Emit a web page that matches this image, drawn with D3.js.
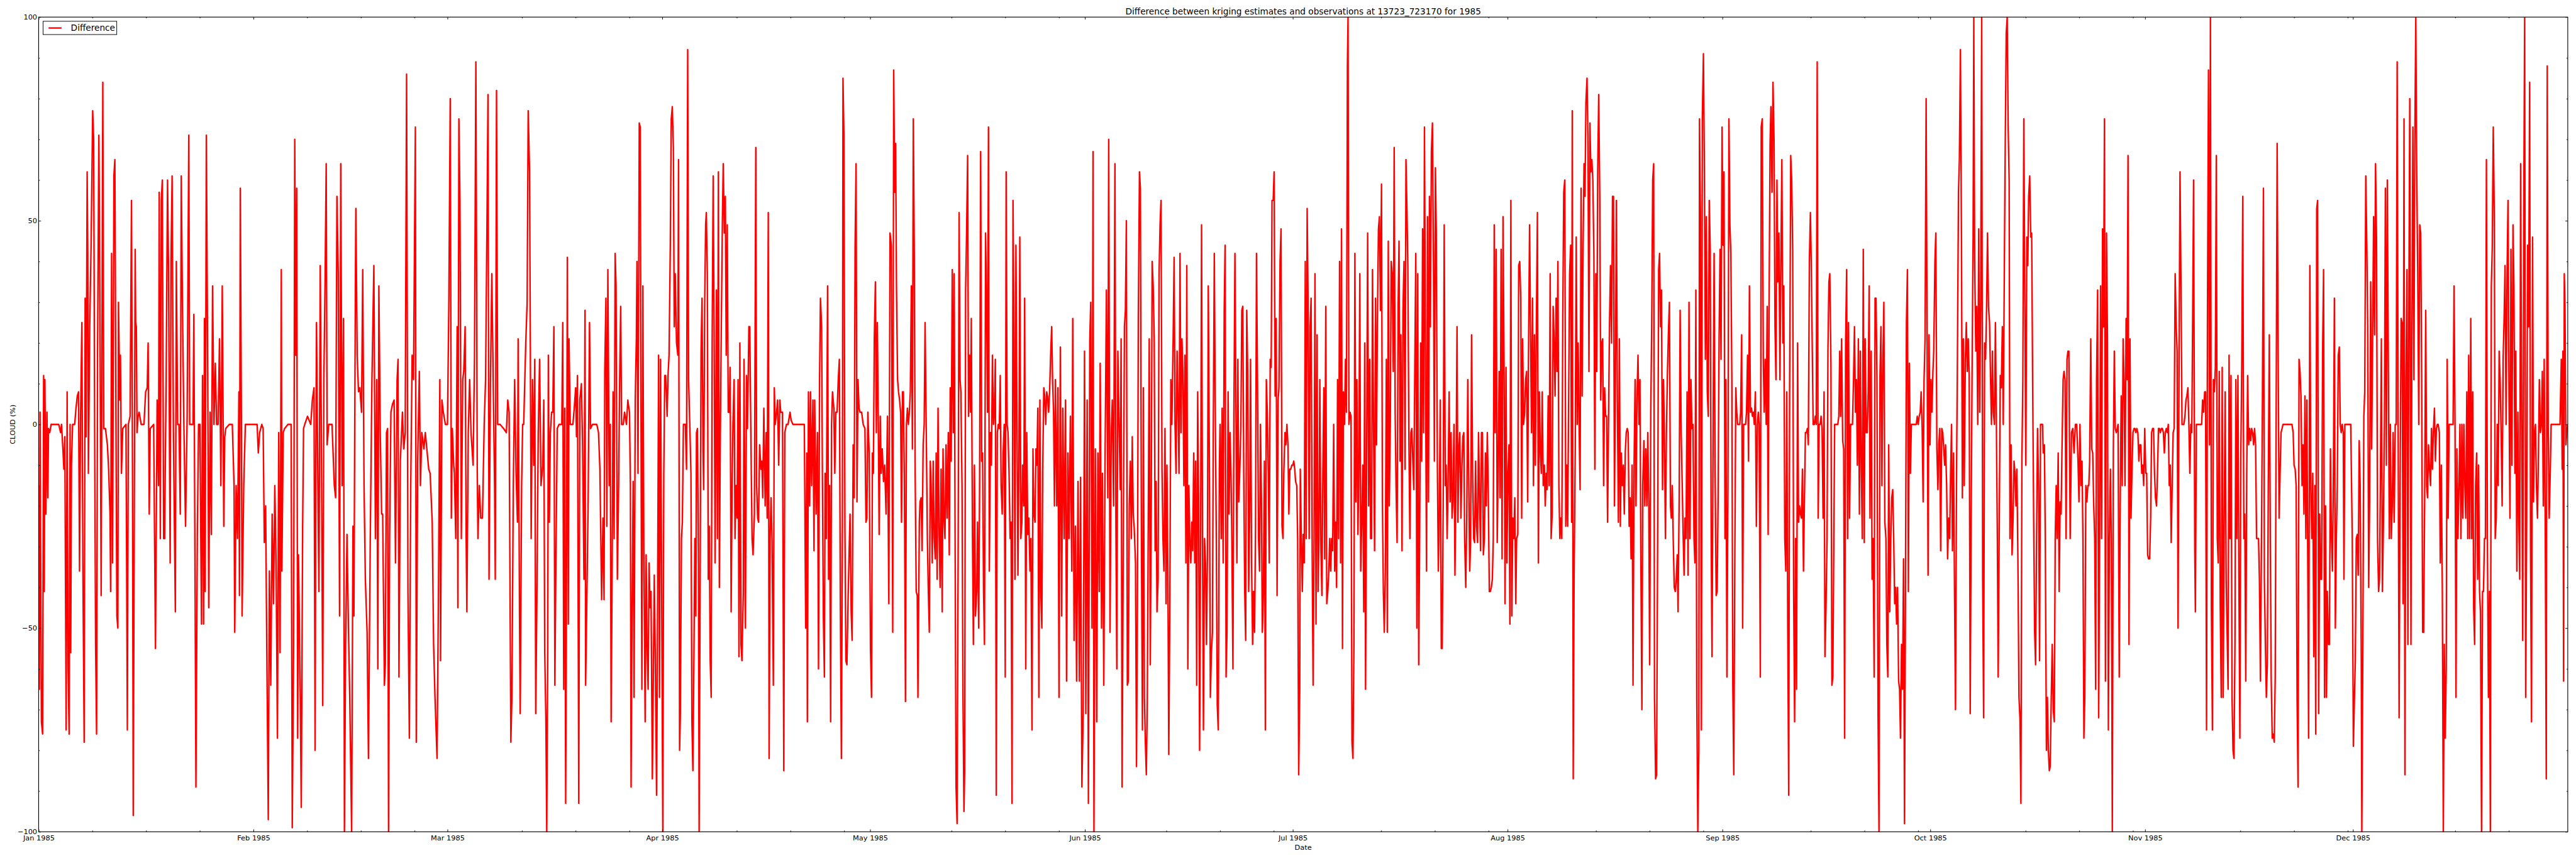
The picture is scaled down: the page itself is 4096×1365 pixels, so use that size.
<!DOCTYPE html>
<html><head><meta charset="utf-8">
<script src="https://cdn.jsdelivr.net/npm/d3@7"></script>
<style>html,body{margin:0;padding:0;background:#fff;overflow:hidden}svg{display:block}</style>
</head><body>
<svg id="chart" width="4096" height="1365" viewBox="0 0 4320 1440"></svg>
<script>
const titleText = "Difference between kriging estimates and observations at 13723_723170 for 1985";
const seriesName = "Difference";
const xAxisLabel = "Date";
const yAxisLabel = "CLOUD (%)";
const yTickValues = [-100, -50, 0, 50, 100];
const monthTickLabels = ["Jan 1985","Feb 1985","Mar 1985","Apr 1985","May 1985","Jun 1985","Jul 1985","Aug 1985","Sep 1985","Oct 1985","Nov 1985","Dec 1985"];

// [day offset from 1 Jan 1985, difference (%)]
const diffJanMar = [[0.0,-15],[0.1,-65],[0.2,3],[0.4,-73],[0.57,-76],[0.72,12],[0.81,-41],[0.9,11],[1.05,-22],[1.2,3],[1.33,-18],[1.42,-1],[1.6,-2],[1.8,0],[2.0,0],[2.9,0],[3.17,-2],[3.3,0],[3.5,-6],[3.64,-11],[3.78,-3],[3.97,-75],[4.11,8],[4.25,-60],[4.4,-76],[4.54,0],[4.63,-56],[4.73,-10],[4.9,0],[5.2,0],[5.39,4],[5.58,7],[5.76,8],[5.9,-36],[6.05,2],[6.24,25],[6.38,-34],[6.57,-78],[6.71,31],[6.85,-3],[7.0,62],[7.09,42],[7.18,-12],[7.37,24],[7.56,43],[7.8,77],[7.94,70],[8.08,-1],[8.22,-54],[8.36,-76],[8.5,17],[8.69,71],[8.83,34],[9.02,-42],[9.26,84],[9.4,-1],[9.64,-1],[9.92,-5],[10.1,-11],[10.3,-22],[10.39,-41],[10.53,42],[10.67,-34],[10.86,61],[11.0,65],[11.2,-15],[11.29,-47],[11.43,-50],[11.52,30],[11.71,6],[11.8,17],[11.95,-12],[12.14,-1],[12.6,0],[12.7,-35],[12.8,-75],[12.94,0],[13.2,2],[13.4,55],[13.55,-15],[13.65,-96],[13.79,-28],[13.93,43],[14.0,25],[14.1,24],[14.2,-2],[14.35,2],[14.5,3],[14.8,0],[15.2,0],[15.44,8],[15.67,9],[15.8,20],[15.96,-22],[16.1,-1],[16.6,0],[16.86,-55],[17.1,6],[17.3,-15],[17.4,57],[17.56,-28],[17.7,55],[17.85,60],[18.04,-28],[18.18,-28],[18.4,11],[18.6,60],[18.74,39],[18.98,-34],[19.1,40],[19.26,61],[19.45,-2],[19.73,-46],[19.87,40],[20.06,0],[20.25,0],[20.44,-22],[20.58,61],[20.77,27],[20.96,0],[21.2,-25],[21.43,2],[21.67,71],[21.8,0],[22.28,0],[22.4,27],[22.57,-38],[22.7,-89],[22.9,-27],[23.08,0],[23.27,0],[23.5,-49],[23.65,12],[23.8,-49],[23.93,26],[24.03,-41],[24.2,71],[24.4,13],[24.55,-45],[24.74,3],[24.92,-27],[25.1,34],[25.3,0],[25.5,15],[25.68,0],[25.9,0],[26.1,21],[26.3,-15],[26.5,34],[26.72,-25],[26.86,-3],[27.0,-1],[27.5,0],[27.95,0],[28.2,-15],[28.3,-51],[28.5,-15],[28.7,-28],[28.9,8],[28.98,-42],[29.1,58],[29.27,-2],[29.36,-47],[29.6,-15],[29.83,0],[30.3,0],[31.53,0],[31.7,-7],[31.9,-2],[32.2,0],[32.4,-1],[32.57,-29],[32.76,-20],[32.95,-60],[33.14,-97],[33.3,-36],[33.5,-64],[33.7,-22],[33.9,-44],[34.08,-15],[34.27,-34],[34.46,-77],[34.65,-2],[34.84,-56],[35.02,38],[35.1,-36],[35.3,-2],[35.5,-1],[35.97,0],[36.44,0],[36.6,-99],[36.8,-54],[36.96,70],[37.1,17],[37.24,58],[37.38,-77],[37.5,-32],[37.76,-67],[37.9,-94],[38.1,-25],[38.23,-1],[38.4,0],[38.8,2],[39.27,0],[39.5,6],[39.74,9],[39.9,-80],[40.0,-9],[40.1,25],[40.3,-15],[40.45,-41],[40.64,39],[40.8,-2],[41.0,-69],[41.16,11],[41.35,37],[41.5,64],[41.63,-5],[41.87,0],[42.34,0],[42.67,-15],[42.86,-18],[43.05,56],[43.24,37],[43.43,-47],[43.6,64],[43.8,-15],[44.0,26],[44.13,-100],[44.3,-54],[44.5,-27],[44.7,-49],[44.9,-67],[45.17,-100],[45.36,-25],[45.5,-47],[45.7,30],[45.78,53],[45.97,17],[46.16,8],[46.35,9],[46.6,3],[46.77,38],[46.96,-15],[47.15,-38],[47.4,-51],[47.6,-82],[47.86,-28],[48.1,11],[48.38,39],[48.6,-28],[48.8,11],[48.95,-60],[49.1,34],[49.3,-2],[49.5,-22],[49.65,-22],[49.9,-64],[50.03,-59],[50.2,-2],[50.36,-1],[50.5,-100],[50.65,-28],[50.84,3],[51.07,5],[51.3,6],[51.5,-34],[51.73,11],[51.87,16],[52.0,-62],[52.2,-9],[52.5,3],[52.7,-6],[52.9,-2],[53.1,86],[53.3,-41],[53.5,-77],[53.7,-15],[53.9,17],[54.1,11],[54.37,73],[54.5,-78],[54.7,-9],[54.94,13],[55.1,-15],[55.3,-2],[55.6,-6],[55.8,-2],[56.3,-11],[56.5,-12],[56.8,-24],[57.0,-54],[57.2,-67],[57.5,-82],[57.7,-41],[57.9,11],[58.0,-58],[58.2,6],[58.4,3],[58.7,0],[59.0,0],[59.2,30],[59.4,80],[59.56,-23],[59.7,-1],[59.9,-10],[60.0,-12],[60.2,-28],[60.4,24],[60.5,-45],[60.65,75],[60.8,55],[61.0,-28],[61.2,11],[61.35,13],[61.55,24],[61.7,-28],[61.8,-46],[62.0,-2],[62.2,11],[62.4,-2],[62.7,-10],[62.9,16],[63.1,89],[63.3,-12],[63.4,-28],[63.6,-15],[63.8,-23],[64.05,-23],[64.3,0],[64.5,11],[64.7,49],[64.85,81],[65.0,-38],[65.2,11],[65.4,37],[65.6,11],[65.8,-15],[65.9,-38],[66.08,82],[66.25,0],[66.6,0],[67.1,-1],[67.5,-2],[67.7,6],[67.9,3],[68.05,-47],[68.15,-78],[68.3,-67],[68.5,-15],[68.7,11],[68.9,-12],[69.1,-24],[69.2,21],[69.4,-47],[69.5,-71],[69.7,-15],[69.85,0],[70.0,0],[70.3,20],[70.5,30],[70.65,77],[70.85,62],[71.08,-28],[71.27,11],[71.45,-10],[71.6,16],[71.74,-71],[71.9,-44],[72.1,-2],[72.3,16],[72.5,-15]];

const diffMarMay = [[72.76,-10],[72.9,6],[73.04,-56],[73.2,-72],[73.33,-100],[73.47,-56],[73.56,17],[73.7,-24],[73.85,-2],[74.03,3],[74.2,3],[74.36,24],[74.5,-64],[74.65,-34],[74.84,-1],[75.1,0],[75.5,0],[75.64,25],[75.78,-65],[75.92,4],[76.06,-93],[76.16,-49],[76.3,41],[76.44,-49],[76.54,21],[76.72,0],[77.1,0],[77.3,4],[77.5,9],[77.62,-3],[77.76,12],[77.95,-93],[78.1,6],[78.33,10],[78.5,-5],[78.7,-38],[78.85,28],[78.94,-64],[79.1,-45],[79.3,-19],[79.5,25],[79.65,-1],[79.93,0],[80.55,0],[80.8,-2],[81.0,-11],[81.25,-43],[81.44,-23],[81.6,-43],[81.7,13],[81.87,31],[82.0,-25],[82.15,38],[82.34,-15],[82.5,0],[82.62,-73],[82.76,-37],[82.9,8],[83.05,-28],[83.2,42],[83.33,34],[83.52,-38],[83.7,-15],[83.85,11],[84.0,29],[84.13,0],[84.37,0],[84.56,3],[84.84,0],[85.03,6],[85.27,3],[85.4,-15],[85.5,-89],[85.64,-47],[85.8,-14],[85.93,-67],[86.1,6],[86.26,21],[86.35,40],[86.5,-12],[86.68,74],[86.82,73],[86.96,-15],[87.06,-65],[87.2,34],[87.34,-31],[87.53,-73],[87.67,-32],[87.8,-54],[87.96,-65],[88.1,-34],[88.24,-45],[88.38,-41],[88.57,-87],[88.7,-64],[88.85,-37],[89.0,-58],[89.18,-91],[89.3,-54],[89.47,17],[89.6,-67],[89.75,16],[89.9,-36],[90.08,-100],[90.22,-12],[90.36,12],[90.5,12],[90.7,2],[90.83,12],[90.98,17],[91.16,44],[91.3,75],[91.45,78],[91.6,68],[91.73,24],[91.87,37],[92.06,20],[92.25,17],[92.35,65],[92.5,-80],[92.6,-72],[92.77,-28],[92.9,-24],[93.05,0],[93.33,0],[93.5,-11],[93.67,92],[93.8,11],[94.0,-2],[94.14,-12],[94.28,-73],[94.42,-85],[94.56,-59],[94.7,-28],[94.85,-47],[94.94,-2],[95.08,-1],[95.22,-34],[95.32,-100],[95.46,-41],[95.6,18],[95.74,31],[95.88,-6],[95.98,-16],[96.12,29],[96.26,49],[96.36,52],[96.5,37],[96.64,-38],[96.78,-25],[96.92,-58],[97.06,-67],[97.2,21],[97.35,61],[97.48,24],[97.63,-34],[97.82,33],[97.96,-28],[98.1,62],[98.24,-40],[98.38,-2],[98.53,26],[98.67,49],[98.8,64],[98.95,47],[99.1,56],[99.23,17],[99.38,49],[99.52,3],[99.66,3],[99.8,14],[99.94,-46],[100.08,-15],[100.2,0],[100.37,11],[100.5,-28],[100.65,-15],[100.8,-23],[100.94,11],[101.07,-57],[101.2,20],[101.36,-54],[101.5,-58],[101.7,-41],[101.8,16],[102.0,-50],[102.16,12],[102.3,-1],[102.5,24],[102.63,24],[102.77,0],[102.96,-28],[103.1,-32],[103.3,-22],[103.5,68],[103.62,-15],[103.77,-23],[103.9,-24],[104.05,-5],[104.24,-11],[104.38,-9],[104.5,-18],[104.66,4],[104.85,-20],[105.0,-2],[105.14,-23],[105.3,52],[105.42,-82],[105.56,-28],[105.7,-18],[105.84,-28],[106.03,-64],[106.17,9],[106.3,0],[106.5,3],[106.65,6],[106.8,-10],[106.97,6],[107.1,3],[107.35,3],[107.54,-85],[107.68,-2],[107.92,0],[108.15,0],[108.44,3],[108.6,1],[108.86,0],[109.57,0],[110.5,0],[110.7,-50],[110.85,-7],[110.94,-73],[111.1,8],[111.27,-20],[111.4,8],[111.55,-15],[111.74,6],[111.9,-31],[112.0,6],[112.2,-22],[112.4,-2],[112.55,-60],[112.7,11],[112.83,31],[113.0,24],[113.1,-10],[113.25,-47],[113.4,-62],[113.5,-12],[113.67,-28],[113.86,34],[114.0,-38],[114.15,-15],[114.3,-73],[114.43,0],[114.57,8],[114.76,4],[114.9,-12],[115.05,3],[115.23,3],[115.4,11],[115.56,16],[115.7,-44],[115.85,-82],[116.0,-25],[116.08,85],[116.22,71],[116.36,-25],[116.5,-58],[116.65,-59],[116.84,-41],[117.0,-29],[117.1,-22],[117.26,-46],[117.4,-53],[117.55,-5],[117.7,-18],[117.83,44],[117.97,64],[118.1,-19],[118.25,11],[118.4,4],[118.54,3],[118.77,3],[119.0,0],[119.25,-1],[119.4,-24],[119.53,-23],[119.67,3],[119.86,-7],[120.05,-55],[120.2,-67],[120.33,-7],[120.47,-12],[120.6,21],[120.76,35],[120.9,-2],[121.04,25],[121.18,0],[121.3,-27],[121.46,2],[121.6,-12],[121.75,-6],[121.93,-14],[122.1,-10],[122.3,-22],[122.5,2],[122.7,-44],[122.87,47],[123.07,44],[123.26,-51],[123.4,87],[123.54,57],[123.68,69],[123.8,34],[123.96,11],[124.1,8],[124.25,6],[124.4,3],[124.53,-24],[124.67,8],[124.8,8],[124.95,-15],[125.1,-68],[125.24,0],[125.38,4],[125.52,0],[125.66,3],[125.8,8],[125.95,34],[126.1,-6],[126.23,75],[126.37,42],[126.5,-12],[126.65,-41],[126.8,-42],[126.9,-67],[127.1,-24],[127.2,-19],[127.36,-18],[127.5,-31],[127.65,-5],[127.8,0],[127.93,25],[128.07,3],[128.26,-28],[128.4,-41],[128.54,-51],[128.68,-9],[128.8,-15],[128.97,-34],[129.1,-9],[129.25,-28],[129.4,-33],[129.53,-7],[129.67,-38],[129.8,4],[129.96,-27],[130.1,-40],[130.24,-11],[130.4,-46],[130.52,-6],[130.66,-23],[130.8,-28],[130.95,-5],[131.1,-23],[131.28,-2],[131.42,-32],[131.56,9],[131.7,-9],[131.85,38],[132.0,-2],[132.13,37],[132.27,-32],[132.4,-89],[132.55,-98],[132.7,-32],[132.84,52],[132.98,11],[133.1,8],[133.26,-15],[133.4,-67],[133.54,-95],[133.64,-85],[133.78,33],[133.92,47],[134.07,66],[134.2,2],[134.35,17],[134.5,3],[134.6,26],[134.77,-28],[134.9,-54],[135.05,-10],[135.2,-47],[135.38,-41],[135.5,-24],[135.67,-50],[135.8,-15],[135.95,67],[136.1,-9],[136.23,-7],[136.37,-41],[136.5,-54],[136.66,47],[136.8,31],[136.94,3],[137.08,73],[137.2,-36],[137.36,-2],[137.5,-10],[137.65,17],[137.8,0],[137.93,3],[138.07,16],[138.2,-91],[138.35,-2],[138.5,0],[138.64,-1],[138.78,12],[138.9,-15],[139.06,-22],[139.2,-7],[139.35,0],[139.5,-62],[139.63,62],[139.77,0],[139.9,-2],[140.05,-12],[140.2,-28],[140.34,-24],[140.48,-93],[140.62,55],[140.76,21],[140.9,-38],[141.04,44],[141.2,0],[141.33,-37],[141.47,-10],[141.6,46],[141.75,-28],[141.9,-24],[142.0,-10],[142.18,-20],[142.3,31],[142.46,-60],[142.6,-2],[142.75,-27],[142.9,-23],[143.07,-36],[143.2,-28],[143.36,-75],[143.5,-6],[143.64,-22],[143.8,-24],[143.93,-6],[144.07,-10],[144.2,4],[144.35,-67],[144.5,6],[144.63,-41],[144.78,-50],[144.9,-12],[145.06,9],[145.2,7],[145.34,0],[145.48,8],[145.6,7],[145.76,3],[145.9,8],[146.05,17],[146.2,24],[146.33,11],[146.47,3],[146.6,-20]];

const diffMayAug = [[146.74,11],[146.93,-20],[147.1,9],[147.26,-67],[147.45,19],[147.64,-47],[147.8,4],[148.0,-28],[148.2,6],[148.35,-63],[148.53,-7],[148.7,-28],[148.9,2],[149.1,-36],[149.24,26],[149.43,-53],[149.62,-25],[149.8,-63],[150.0,-14],[150.2,-63],[150.37,-13],[150.56,-89],[150.75,-71],[150.94,18],[151.13,-71],[151.32,6],[151.5,-93],[151.7,21],[151.84,30],[152.02,-50],[152.17,67],[152.3,-100],[152.5,-6],[152.7,-73],[152.87,-7],[153.06,-41],[153.2,15],[153.4,-50],[153.53,-12],[153.72,-64],[153.9,-10],[154.1,33],[154.3,-18],[154.43,70],[154.62,-51],[154.8,-2],[154.95,6],[155.14,-20],[155.33,64],[155.47,-25],[155.6,-60],[155.75,18],[155.94,-1],[156.1,-16],[156.22,21],[156.36,-89],[156.5,-41],[156.7,24],[156.84,28],[156.98,50],[157.12,-64],[157.26,-63],[157.4,-20],[157.55,-9],[157.7,-28],[157.83,-3],[157.97,-22],[158.1,-25],[158.3,-34],[158.44,-84],[158.58,-44],[158.7,26],[158.87,62],[159.0,58],[159.15,-28],[159.3,-75],[159.43,9],[159.58,-67],[159.72,-78],[159.86,-86],[160.0,-68],[160.14,-24],[160.28,21],[160.43,-59],[160.57,-20],[160.7,40],[160.85,34],[161.0,21],[161.13,-31],[161.27,-14],[161.4,-46],[161.56,-38],[161.7,37],[161.84,49],[161.98,55],[162.12,-11],[162.26,-28],[162.4,-36],[162.55,-1],[162.7,-44],[162.83,-10],[162.97,-36],[163.1,-81],[163.25,-44],[163.4,11],[163.54,0],[163.73,21],[163.87,41],[164.0,0],[164.15,-12],[164.3,18],[164.44,4],[164.58,-12],[164.72,42],[164.86,-2],[165.0,21],[165.14,13],[165.28,-15],[165.43,17],[165.57,-34],[165.7,39],[165.85,-60],[166.0,-15],[166.13,-28],[166.28,-34],[166.42,-24],[166.56,-31],[166.7,-7],[166.84,-34],[166.98,-9],[167.13,-64],[167.27,8],[167.4,-18],[167.55,-80],[167.7,-24],[167.83,49],[167.97,-29],[168.1,-75],[168.26,-28],[168.4,-34],[168.54,-54],[168.68,-32],[168.8,34],[168.97,-12],[169.1,-67],[169.25,-56],[169.4,-51],[169.53,0],[169.67,42],[169.8,6],[169.96,-28],[170.1,-69],[170.24,-75],[170.4,-11],[170.5,0],[170.67,-28],[170.8,4],[170.95,-34],[171.1,28],[171.23,44],[171.37,-62],[171.5,-51],[171.66,8],[171.8,-22],[171.94,-2],[172.08,-12],[172.2,-28],[172.36,-60],[172.5,3],[172.65,42],[172.8,2],[172.93,-34],[173.07,16],[173.2,-19],[173.35,-11],[173.5,-1],[173.64,28],[173.78,29],[173.92,-12],[174.06,-41],[174.2,-53],[174.35,28],[174.5,12],[174.63,-41],[174.77,-23],[174.9,16],[175.05,-34],[175.2,-54],[175.33,-41],[175.48,-51],[175.62,-25],[175.76,42],[175.9,11],[176.05,-28],[176.2,-36],[176.33,0],[176.47,-18],[176.6,-51],[176.75,-42],[176.9,-9],[177.04,-75],[177.18,11],[177.32,3],[177.46,-12],[177.6,-34],[177.74,16],[177.88,14],[178.0,55],[178.17,55],[178.3,62],[178.45,7],[178.6,26],[178.73,-42],[178.88,6],[179.0,9],[179.16,40],[179.3,48],[179.44,-25],[179.58,-28],[179.7,-12],[179.87,-2],[180.0,-5],[180.15,0],[180.3,-5],[180.43,-22],[180.57,-11],[180.7,-11],[180.86,-10],[181.0,-10],[181.14,-9],[181.28,-11],[181.4,-14],[181.57,-15],[181.7,-28],[181.85,-86],[182.0,-65],[182.08,-11],[182.23,-28],[182.37,-41],[182.5,-27],[182.65,-34],[182.8,40],[182.93,-28],[183.07,53],[183.2,31],[183.36,-28],[183.5,24],[183.64,31],[183.8,-33],[183.93,-64],[184.07,-28],[184.2,37],[184.35,-49],[184.5,22],[184.64,-41],[184.78,-28],[184.9,11],[185.06,-31],[185.2,-42],[185.34,-11],[185.48,9],[185.6,-33],[185.76,29],[185.9,-44],[186.05,-41],[186.2,-36],[186.33,-28],[186.47,-36],[186.6,-28],[186.75,-31],[186.9,0],[187.04,-36],[187.18,-24],[187.32,-40],[187.46,11],[187.6,-28],[187.75,40],[187.9,-34],[188.03,48],[188.17,-55],[188.3,8],[188.46,0],[188.6,16],[188.74,3],[188.88,88],[188.97,100],[189.1,0],[189.26,3],[189.4,2],[189.54,-78],[189.68,-82],[189.82,-54],[189.96,42],[190.1,-19],[190.25,11],[190.4,-27],[190.53,-11],[190.67,37],[190.8,-36],[190.96,-23],[191.1,-10],[191.24,-46],[191.38,20],[191.5,-65],[191.67,-2],[191.8,47],[191.95,-20],[192.1,16],[192.23,-28],[192.37,-28],[192.5,38],[192.66,-2],[192.8,-31],[192.94,31],[193.08,-5],[193.2,24],[193.36,48],[193.5,51],[193.65,28],[193.8,59],[193.93,-19],[194.07,-41],[194.2,-51],[194.35,-36],[194.5,16],[194.64,-51],[194.78,45],[194.92,-20],[195.07,0],[195.2,40],[195.35,37],[195.5,13],[195.63,68],[195.77,3],[195.9,-15],[196.05,-29],[196.2,29],[196.33,45],[196.48,-9],[196.6,22],[196.76,-31],[196.9,28],[197.05,40],[197.2,-11],[197.33,65],[197.47,53],[197.6,39],[197.75,-3],[197.9,-28],[198.04,-2],[198.18,-1],[198.32,-9],[198.46,-16],[198.6,13],[198.75,42],[198.9,-50],[199.03,37],[199.17,-59],[199.3,-29],[199.45,20],[199.6,-9],[199.73,48],[199.87,-2],[200.0,73],[200.16,11],[200.3,-36],[200.44,51],[200.58,-19],[200.72,56],[200.86,24],[201.0,67],[201.15,74],[201.3,40],[201.43,-9],[201.58,63],[201.7,48],[201.86,-9],[202.0,-36],[202.14,-22],[202.28,6],[202.43,-55],[202.56,-55],[202.7,-20],[202.85,49],[203.0,-15],[203.13,-10],[203.27,-28],[203.4,-15],[203.56,8],[203.7,-19],[203.84,-2],[203.98,-23],[204.1,-19],[204.26,0],[204.4,-37],[204.55,-15],[204.7,24],[204.83,-24],[204.97,-6],[205.1,-2],[205.26,-23],[205.4,-11],[205.54,-3],[205.68,-2],[205.8,-28],[205.96,-40],[206.1,-23],[206.25,11],[206.4,-15],[206.53,-36],[206.67,-28],[206.8,22],[206.96,-14],[207.1,-28],[207.24,-29],[207.38,-9],[207.52,-25],[207.66,-29],[207.8,-2],[207.95,-18],[208.1,-31],[208.23,-2],[208.37,-2],[208.5,-32],[208.65,-28],[208.8,-7],[208.93,-20],[209.07,-2],[209.2,-15],[209.36,-41],[209.5,-41],[209.65,-40],[209.8,-38],[209.93,-28],[210.07,49],[210.2,-2],[210.35,43],[210.5,-29],[210.64,-10],[210.78,13],[210.92,-18],[211.06,43],[211.2,-33],[211.34,51],[211.5,11],[211.63,-44],[211.77,14],[211.9,-34],[212.05,-12],[212.2,-5],[212.33,-49],[212.47,55],[212.6,-47],[212.76,-23],[212.9,-28],[213.04,-18],[213.18,-44],[213.3,-28],[213.47,-27],[213.6,39],[213.75,40],[213.9,31],[214.03,-23],[214.17,21],[214.3,0],[214.46,3],[214.6,11],[214.74,13],[214.9,-19],[215.0,14],[215.17,49],[215.3,24],[215.45,-2],[215.6,31],[215.73,-15],[215.87,22],[216.0,-10],[216.15,24],[216.3,52],[216.44,-34],[216.58,8],[216.72,-6],[216.86,-12],[217.0,8],[217.14,-15],[217.3,-10],[217.43,-20],[217.57,-12],[217.7,-16],[217.86,7],[218.0,-15],[218.14,37],[218.28,-28],[218.43,-22],[218.57,29],[218.7,22],[218.85,7],[219.0,31],[219.13,13]];

const diffAugOct = [[219.26,40],[219.4,-15],[219.54,-28],[219.68,-23],[219.82,-28],[219.96,26],[220.1,57],[220.25,60],[220.39,-25],[220.53,-10],[220.67,-25],[220.8,4],[220.95,37],[221.1,44],[221.24,-24],[221.33,77],[221.47,-87],[221.6,-36],[221.76,-6],[221.9,46],[222.04,0],[222.18,20],[222.32,0],[222.46,-16],[222.6,58],[222.75,7],[222.89,43],[223.03,64],[223.17,56],[223.3,79],[223.46,85],[223.6,70],[223.74,13],[223.88,74],[224.02,62],[224.16,65],[224.3,60],[224.45,42],[224.59,-11],[224.73,37],[224.87,13],[225.0,62],[225.15,81],[225.3,56],[225.44,6],[225.58,20],[225.72,21],[225.86,-15],[226.0,9],[226.15,2],[226.29,2],[226.43,-24],[226.57,2],[226.7,24],[226.85,39],[227.0,20],[227.14,56],[227.28,56],[227.42,-20],[227.56,11],[227.7,55],[227.84,6],[227.99,-24],[228.13,21],[228.27,-25],[228.4,-7],[228.55,-15],[228.7,-10],[228.84,-22],[228.98,-7],[229.12,-2],[229.26,-1],[229.4,-2],[229.54,-25],[229.68,-18],[229.82,-33],[229.97,-10],[230.1,-64],[230.25,-10],[230.4,11],[230.53,-20],[230.68,7],[230.82,17],[230.96,0],[231.1,11],[231.24,-36],[231.38,-70],[231.5,-15],[231.67,-4],[231.8,-20],[231.95,-6],[232.1,-20],[232.23,-2],[232.37,-19],[232.5,-59],[232.66,3],[232.8,25],[232.94,60],[233.08,64],[233.2,-67],[233.36,-87],[233.5,-86],[233.65,-28],[233.8,38],[233.93,42],[234.07,24],[234.2,33],[234.36,-16],[234.5,11],[234.64,-4],[234.78,-28],[234.92,-2],[235.06,12],[235.2,22],[235.35,30],[235.5,-20],[235.63,-23],[235.77,-15],[235.9,-28],[236.05,-40],[236.2,-41],[236.34,-38],[236.48,-32],[236.6,-46],[236.76,-18],[236.9,28],[237.05,-2],[237.2,-15],[237.33,-27],[237.47,-37],[237.6,-23],[237.75,-28],[237.9,8],[238.04,-37],[238.18,30],[238.32,-28],[238.46,11],[238.6,-1],[238.75,0],[238.9,-28],[239.03,-34],[239.17,33],[239.3,-67],[239.45,-100],[239.6,-80],[239.69,75],[239.83,52],[239.97,-75],[240.1,75],[240.26,91],[240.4,62],[240.54,16],[240.68,51],[240.82,8],[240.96,2],[241.1,55],[241.24,43],[241.38,-28],[241.5,-57],[241.67,2],[241.8,42],[241.95,-12],[242.1,-42],[242.24,-41],[242.38,-18],[242.52,21],[242.66,43],[242.8,16],[242.95,73],[243.09,44],[243.23,62],[243.37,-28],[243.5,11],[243.65,-62],[243.8,-15],[243.94,75],[244.08,49],[244.22,42],[244.36,11],[244.5,-64],[244.64,-86],[244.78,-36],[244.93,9],[245.07,3],[245.2,0],[245.35,0],[245.5,0],[245.63,3],[245.78,22],[245.92,-50],[246.06,0],[246.2,0],[246.34,0],[246.48,3],[246.63,17],[246.77,-9],[246.9,34],[247.05,3],[247.2,4],[247.33,2],[247.47,3],[247.6,0],[247.76,8],[247.9,-25],[248.04,0],[248.18,3],[248.3,0],[248.47,-62],[248.6,73],[248.75,75],[248.9,16],[249.03,3],[249.17,16],[249.32,0],[249.46,29],[249.6,-27],[249.74,30],[249.88,69],[250.0,78],[250.16,57],[250.3,84],[250.45,70],[250.59,24],[250.73,11],[250.87,60],[251.0,35],[251.16,47],[251.3,11],[251.44,40],[251.58,65],[251.72,20],[251.86,34],[252.0,-28],[252.15,-36],[252.29,8],[252.43,-50],[252.57,-91],[252.7,8],[252.86,66],[253.0,60],[253.14,43],[253.28,-41],[253.42,-73],[253.56,-28],[253.7,-65],[253.85,20],[253.99,-24],[254.13,-20],[254.27,-22],[254.41,-23],[254.55,-11],[254.7,-36],[254.84,-18],[254.98,-2],[255.12,-2],[255.26,-1],[255.4,-5],[255.55,40],[255.7,52],[255.83,39],[255.97,18],[256.1,0],[256.26,0],[256.4,2],[256.54,0],[256.68,89],[256.82,-23],[256.96,0],[257.1,0],[257.24,2],[257.38,-1],[257.53,-23],[257.67,8],[257.8,-57],[257.95,-45],[258.1,-28],[258.23,18],[258.37,35],[258.5,37],[258.66,15],[258.8,-64],[258.94,-62],[259.08,-28],[259.2,0],[259.37,0],[259.5,0],[259.65,0],[259.8,2],[259.93,18],[260.07,2],[260.2,21],[260.36,-4],[260.5,-6],[260.64,-77],[260.78,20],[260.93,38],[261.07,-28],[261.2,25],[261.35,-23],[261.5,0],[261.63,0],[261.77,0],[261.92,11],[262.06,24],[262.2,3],[262.34,11],[262.48,-10],[262.62,21],[262.77,-22],[262.9,18],[263.05,-11],[263.19,-28],[263.33,43],[263.47,-29],[263.6,21],[263.76,-2],[263.9,-2],[264.04,8],[264.18,34],[264.3,-23],[264.47,18],[264.6,-38],[264.75,-28],[264.9,-62],[265.03,31],[265.17,31],[265.3,12],[265.46,-71],[265.6,-100],[265.74,12],[265.88,24],[266.02,-15],[266.16,16],[266.3,30],[266.44,-24],[266.6,-28],[266.73,-54],[266.87,-62],[267.0,-5],[267.15,-46],[267.3,-28],[267.44,-18],[267.58,-16],[267.72,-28],[267.86,-44],[268.0,-40],[268.14,-49],[268.28,-40],[268.43,-63],[268.57,-65],[268.7,-77],[268.85,-54],[269.0,-65],[269.14,-33],[269.28,-98],[269.42,-41],[269.56,25],[269.7,38],[269.84,-41],[269.98,15],[270.13,-12],[270.27,0],[270.4,0],[270.7,0],[270.98,0],[271.12,2],[271.26,0],[271.4,2],[271.55,3],[271.68,8],[271.83,-1],[271.97,-19],[272.1,11],[272.25,21],[272.4,80],[272.53,25],[272.68,-37],[272.82,22],[272.96,-5],[273.1,11],[273.24,3],[273.38,13],[273.5,18],[273.67,40],[273.8,47],[273.95,-6],[274.1,-16],[274.23,-5],[274.37,-1],[274.5,-31],[274.66,-1],[274.8,-2],[274.94,-6],[275.08,-10],[275.2,-5],[275.36,-15],[275.5,-33],[275.65,-23],[275.8,-28],[275.93,-12],[276.07,0],[276.2,-31],[276.36,-7],[276.5,-41],[276.64,-70],[276.78,-15],[276.92,17],[277.07,57],[277.2,65],[277.35,92],[277.5,46],[277.63,-18],[277.77,21],[277.9,-15],[278.06,16],[278.2,25],[278.34,13],[278.48,21],[278.62,12],[278.76,-71],[278.9,-23],[279.05,18],[279.18,46],[279.28,100],[279.4,40],[279.57,18],[279.7,29],[279.85,0],[279.99,48],[280.13,3],[280.27,29],[280.42,100],[280.56,-38],[280.7,-72],[280.84,20],[280.98,16],[281.12,28],[281.26,47],[281.4,29],[281.55,25],[281.7,11],[281.83,0],[281.97,18],[282.1,3],[282.26,0],[282.4,25],[282.54,0],[282.68,-28],[282.8,-62],[282.96,-23],[283.1,12],[283.25,9],[283.4,24],[283.53,0],[283.67,34],[283.8,65],[283.96,96],[284.1,100],[284.24,73],[284.38,60],[284.5,-28],[284.66,-5],[284.8,-32],[284.95,-23],[285.09,-9],[285.23,-12],[285.37,-20],[285.5,-11],[285.65,-34],[285.8,-67],[285.94,-72],[286.08,-93],[286.22,-9],[286.36,11],[286.5,75],[286.65,29],[286.79,-10],[286.93,46],[287.07,39],[287.2,56],[287.35,61],[287.5,46],[287.63,47],[287.78,9],[287.92,-23],[288.06,-51],[288.2,-59],[288.34,-28],[288.48,-1],[288.63,-15],[288.77,-58],[288.91,0],[289.05,0],[289.2,0],[289.3,-7],[289.47,-5],[289.6,-28],[289.76,-80],[289.9,-67],[290.04,-80],[290.18,-85],[290.3,-84],[290.46,-67],[290.6,-54],[290.75,-70],[290.9,-73],[291.03,-28],[291.17,-15],[291.3,-28],[291.46,-7],[291.6,-41],[291.74,-19],[291.88,-22],[292.0,-7],[292.17,11],[292.3,13],[292.45,11],[292.6,-28],[292.73,16],[292.87,18]];

const diffOctDec = [[293.0,18],[293.19,-28],[293.38,-2],[293.57,-1],[293.75,-7],[293.94,0],[294.13,0],[294.32,-9],[294.46,-19],[294.6,0],[294.75,-15],[294.9,-9],[295.03,-28],[295.17,-77],[295.3,-67],[295.45,-15],[295.6,-19],[295.74,-15],[295.88,-15],[296.0,-9],[296.16,21],[296.3,-6],[296.44,-7],[296.59,-20],[296.73,-28],[296.87,-65],[297.0,11],[297.15,33],[297.3,-72],[297.44,-28],[297.58,34],[297.72,-28],[297.86,48],[298.0,24],[298.14,75],[298.28,-63],[298.43,47],[298.57,21],[298.7,-75],[298.85,-28],[299.0,-11],[299.13,-28],[299.27,-100],[299.42,-6],[299.56,18],[299.7,-1],[299.84,-2],[299.98,-1],[300.1,0],[300.27,-62],[300.41,-20],[300.55,7],[300.7,-15],[300.83,21],[300.97,11],[301.1,-15],[301.26,26],[301.4,11],[301.54,66],[301.68,-54],[301.82,21],[301.97,-23],[302.1,-12],[302.25,-2],[302.4,-1],[302.53,-1],[302.67,-2],[302.8,-1],[302.96,-2],[303.1,-9],[303.24,-5],[303.38,-5],[303.52,-12],[303.66,-10],[303.8,-15],[303.95,-1],[304.1,-12],[304.23,-12],[304.37,-32],[304.5,-33],[304.66,-33],[304.8,-23],[304.94,-2],[305.08,-1],[305.22,-1],[305.36,-12],[305.5,-18],[305.65,-20],[305.79,-12],[305.93,-1],[306.07,-1],[306.2,-2],[306.35,-1],[306.5,-1],[306.64,-2],[306.78,-7],[306.92,-2],[307.06,-1],[307.2,-2],[307.35,0],[307.49,-15],[307.63,-10],[307.77,-29],[307.91,-15],[308.05,-2],[308.2,-1],[308.34,37],[308.48,25],[308.62,18],[308.76,-50],[308.9,13],[309.04,62],[309.19,33],[309.33,0],[309.47,0],[309.6,0],[309.75,2],[309.9,6],[310.03,7],[310.18,9],[310.32,0],[310.46,-12],[310.6,0],[310.74,-2],[310.88,29],[311.0,60],[311.17,-31],[311.26,-46],[311.4,0],[311.55,0],[311.7,0],[311.97,0],[312.16,0],[312.3,6],[312.44,3],[312.6,8],[312.73,8],[312.87,-75],[313.0,24],[313.15,87],[313.3,-5],[313.43,100],[313.57,-45],[313.72,-75],[313.86,11],[314.0,8],[314.14,14],[314.28,66],[314.42,-28],[314.56,-34],[314.7,13],[314.85,-45],[314.99,-67],[315.13,14],[315.27,-67],[315.4,-28],[315.56,8],[315.7,-38],[315.84,-51],[315.98,-65],[316.12,17],[316.26,-28],[316.4,12],[316.55,-67],[316.69,-80],[316.83,-82],[316.97,-54],[317.1,11],[317.25,-28],[317.4,12],[317.54,-38],[317.68,-77],[317.82,-7],[317.96,16],[318.1,56],[318.25,-28],[318.39,-22],[318.53,-63],[318.67,-12],[318.8,12],[318.95,-5],[319.1,-1],[319.24,-4],[319.38,-1],[319.52,-2],[319.66,-5],[319.8,-1],[319.95,-5],[320.09,-28],[320.23,-28],[320.37,-28],[320.5,-38],[320.65,-63],[320.8,-28],[320.94,7],[321.08,58],[321.22,-38],[321.36,-54],[321.5,-67],[321.64,-59],[321.78,-15],[321.93,22],[322.07,-28],[322.2,-62],[322.35,-77],[322.5,-76],[322.64,-78],[322.78,-62],[322.92,3],[323.06,69],[323.2,18],[323.34,-23],[323.48,-12],[323.62,-2],[323.77,-1],[323.9,0],[324.24,0],[324.7,0],[325.2,0],[325.37,-2],[325.5,-10],[325.66,-11],[325.8,-15],[325.94,-68],[326.08,-89],[326.22,16],[326.36,13],[326.5,7],[326.65,-15],[326.79,-5],[326.93,-22],[327.07,7],[327.2,-28],[327.35,6],[327.5,-41],[327.6,-77],[327.78,39],[327.92,-16],[328.06,-28],[328.2,-12],[328.35,-57],[328.5,-15],[328.63,-76],[328.77,53],[328.9,55],[329.05,-71],[329.2,-22],[329.34,-38],[329.47,-38],[329.62,18],[329.76,38],[329.9,-67],[330.04,-20],[330.18,-67],[330.3,-41],[330.47,-54],[330.6,-54],[330.75,-6],[330.9,-28],[331.04,-36],[331.18,-12],[331.32,31],[331.46,-50],[331.6,-28],[331.74,-15],[331.88,17],[332.03,19],[332.17,0],[332.3,-2],[332.45,0],[332.6,-2],[332.7,-38],[332.83,0],[333.11,0],[333.4,0],[333.68,0],[333.9,-28],[334.06,-79],[334.2,-68],[334.34,-58],[334.48,-28],[334.62,-27],[334.76,-37],[334.9,-4],[335.04,-15],[335.2,-57],[335.28,-100],[335.43,-54],[335.57,2],[335.7,8],[335.85,61],[336.0,44],[336.13,24],[336.27,-40],[336.4,-19],[336.56,35],[336.7,-6],[336.84,21],[336.98,51],[337.12,22],[337.26,64],[337.4,46],[337.55,-28],[337.7,-41],[337.83,-38],[337.97,-12],[338.1,21],[338.25,-41],[338.4,-24],[338.54,0],[338.68,58],[338.82,-10],[338.96,60],[339.1,16],[339.25,-28],[339.4,0],[339.53,-28],[339.67,-20],[339.8,-2],[339.95,-24],[340.1,0],[340.24,0],[340.38,89],[340.52,0],[340.66,-72],[340.8,-15],[340.95,26],[341.1,25],[341.23,-44],[341.37,75],[341.5,-86],[341.65,11],[341.8,38],[341.93,-54],[342.08,34],[342.2,80],[342.37,-54],[342.5,18],[342.65,73],[342.8,11],[342.93,70],[343.07,100],[343.2,62],[343.35,37],[343.5,0],[343.64,49],[343.78,47],[343.92,11],[344.06,-51],[344.2,-51],[344.35,-18],[344.5,28],[344.63,-15],[344.77,-18],[344.9,-5],[345.05,-11],[345.2,-15],[345.33,-1],[345.47,-11],[345.6,-2],[345.76,4],[345.9,-9],[346.04,-1],[346.18,0],[346.3,0],[346.47,-2],[346.6,-34],[346.75,-10],[346.9,-41],[347.04,-100],[347.18,-54],[347.32,-77],[347.46,-60],[347.6,16],[347.74,-23],[347.88,0],[348.0,0],[348.17,0],[348.3,0],[348.45,0],[348.59,34],[348.73,0],[348.87,-67],[349.0,-6],[349.15,-28],[349.3,-15],[349.44,0],[349.58,-28],[349.72,0],[349.86,-23],[350.0,0],[350.15,-15],[350.28,-23],[350.43,8],[350.57,-28],[350.7,17],[350.85,-28],[351.0,26],[351.14,-28],[351.28,8],[351.42,-45],[351.56,-54],[351.7,-15],[351.85,-7],[352.0,-38],[352.13,-10],[352.27,-41],[352.4,-46],[352.56,-100],[352.7,-41],[352.84,-41],[352.98,-28],[353.12,-28],[353.26,65],[353.4,-28],[353.55,-67],[353.7,-41],[353.83,-100],[353.97,34],[354.1,43],[354.25,73],[354.4,51],[354.53,-28],[354.68,-23],[354.82,0],[354.96,-15],[355.1,18],[355.24,11],[355.38,-2],[355.53,-20],[355.67,16],[355.8,25],[355.95,39],[356.1,0],[356.24,37],[356.38,55],[356.52,8],[356.66,-23],[356.8,43],[356.94,-10],[357.1,49],[357.23,34],[357.37,-12],[357.5,18],[357.65,-36],[357.8,3],[357.93,-23],[358.07,-38],[358.2,64],[358.36,-2],[358.5,-53],[358.64,49],[358.78,100],[358.93,-67],[359.07,-23],[359.2,44],[359.35,24],[359.5,84],[359.63,-31],[359.77,-73],[359.92,46],[360.06,-19],[360.2,-2],[360.34,0],[360.48,-15],[360.63,-23],[360.77,-7],[360.9,11],[361.05,-2],[361.2,0],[361.33,13],[361.47,-20],[361.6,16],[361.76,-28],[361.9,-87],[362.04,88],[362.18,-2],[362.32,-23],[362.47,-12],[362.6,0],[362.94,0],[363.4,0],[363.88,0],[364.07,16],[364.2,-11],[364.3,18],[364.4,-63],[364.5,37],[364.6,29],[364.73,-5],[364.87,-2],[364.97,0]];

const W = 4320, H = 1440;
const X0 = 64.3, X1 = 4306.7, Y0 = 28.7, Y1 = 1396;
const FONT = "DejaVu Sans, Liberation Sans, sans-serif";
const t0 = Date.UTC(1985, 0, 1);
const dayMs = 864e5;

const svg = d3.select("#chart");
svg.append("rect").attr("width", W).attr("height", H).attr("fill", "#fff");

const x = d3.scaleUtc().domain([new Date(t0), new Date(Date.UTC(1986, 0, 1))]).range([X0, X1]);
const y = d3.scaleLinear().domain([-100, 100]).range([Y1, Y0]);

const samples = [].concat(diffJanMar, diffMarMay, diffMayAug, diffAugOct, diffOctDec)
  .map(([d, v]) => ({date: new Date(t0 + d * dayMs), value: v}));

svg.append("clipPath").attr("id", "plotclip").append("rect")
  .attr("x", X0).attr("y", Y0).attr("width", X1 - X0).attr("height", Y1 - Y0);

const line = d3.line().x(d => x(d.date)).y(d => y(d.value));
svg.append("path").datum(samples)
  .attr("clip-path", "url(#plotclip)")
  .attr("fill", "none").attr("stroke", "#ff0000").attr("stroke-width", 2.5)
  .attr("stroke-linejoin", "round").attr("d", line);

// ticks
const monthStarts = d3.range(12).map(m => new Date(Date.UTC(1985, m, 1)));
const minorX = d3.range(1, 47).filter(k => k % 4 !== 0).map(k => new Date(t0 + k * 7.75 * dayMs));
const minorY = d3.range(-90, 100, 10).filter(v => v % 50 !== 0);

function styleAxis(g) {
  g.select(".domain").remove();
  g.selectAll(".tick line").attr("stroke", "#000").attr("stroke-width", 1);
  g.selectAll("text").attr("font-family", FONT).attr("font-size", 12).attr("fill", "#000");
}
const fmtY = d3.format("d");
svg.append("g").attr("transform", `translate(0,${Y1})`)
  .call(d3.axisBottom(x).tickValues(monthStarts).tickFormat((d, i) => monthTickLabels[i]).tickSizeInner(-4).tickSizeOuter(0).tickPadding(6)).call(styleAxis);
svg.append("g").attr("transform", `translate(0,${Y1})`)
  .call(d3.axisBottom(x).tickValues(minorX).tickFormat("").tickSizeInner(-2).tickSizeOuter(0)).call(styleAxis);
svg.append("g").attr("transform", `translate(0,${Y0})`)
  .call(d3.axisTop(x).tickValues(monthStarts).tickFormat("").tickSizeInner(-4).tickSizeOuter(0)).call(styleAxis);
svg.append("g").attr("transform", `translate(0,${Y0})`)
  .call(d3.axisTop(x).tickValues(minorX).tickFormat("").tickSizeInner(-2).tickSizeOuter(0)).call(styleAxis);
svg.append("g").attr("transform", `translate(${X0},0)`)
  .call(d3.axisLeft(y).tickValues(yTickValues).tickFormat(fmtY).tickSizeInner(-4).tickSizeOuter(0).tickPadding(2.5)).call(styleAxis);
svg.append("g").attr("transform", `translate(${X0},0)`)
  .call(d3.axisLeft(y).tickValues(minorY).tickFormat("").tickSizeInner(-2).tickSizeOuter(0)).call(styleAxis);
svg.append("g").attr("transform", `translate(${X1},0)`)
  .call(d3.axisRight(y).tickValues(yTickValues).tickFormat("").tickSizeInner(-4).tickSizeOuter(0)).call(styleAxis);
svg.append("g").attr("transform", `translate(${X1},0)`)
  .call(d3.axisRight(y).tickValues(minorY).tickFormat("").tickSizeInner(-2).tickSizeOuter(0)).call(styleAxis);

// frame
svg.append("rect").attr("x", X0).attr("y", Y0).attr("width", X1 - X0).attr("height", Y1 - Y0)
  .attr("fill", "none").attr("stroke", "#000").attr("stroke-width", 1.2);

// title and labels
svg.append("text").attr("x", (X0 + X1) / 2).attr("y", 24).attr("text-anchor", "middle")
  .attr("font-family", FONT).attr("font-size", 14.4).text(titleText);
svg.append("text").attr("x", (X0 + X1) / 2).attr("y", 1426).attr("text-anchor", "middle")
  .attr("font-family", FONT).attr("font-size", 12).text(xAxisLabel);
svg.append("text").attr("transform", `translate(24.3,${(Y0 + Y1) / 2}) rotate(-90)`).attr("text-anchor", "middle")
  .attr("font-family", FONT).attr("font-size", 12).text(yAxisLabel);

// legend
const lg = svg.append("g");
lg.append("rect").attr("x", 71.7).attr("y", 35.7).attr("width", 123.6).attr("height", 22.3)
  .attr("fill", "#fff").attr("stroke", "#000").attr("stroke-width", 1);
lg.append("line").attr("x1", 81).attr("x2", 102.7).attr("y1", 47).attr("y2", 47)
  .attr("stroke", "#ff0000").attr("stroke-width", 2.5);
lg.append("text").attr("x", 118.3).attr("y", 47).attr("dy", "0.35em")
  .attr("font-family", FONT).attr("font-size", 14.4).text(seriesName);
</script>
</body></html>
